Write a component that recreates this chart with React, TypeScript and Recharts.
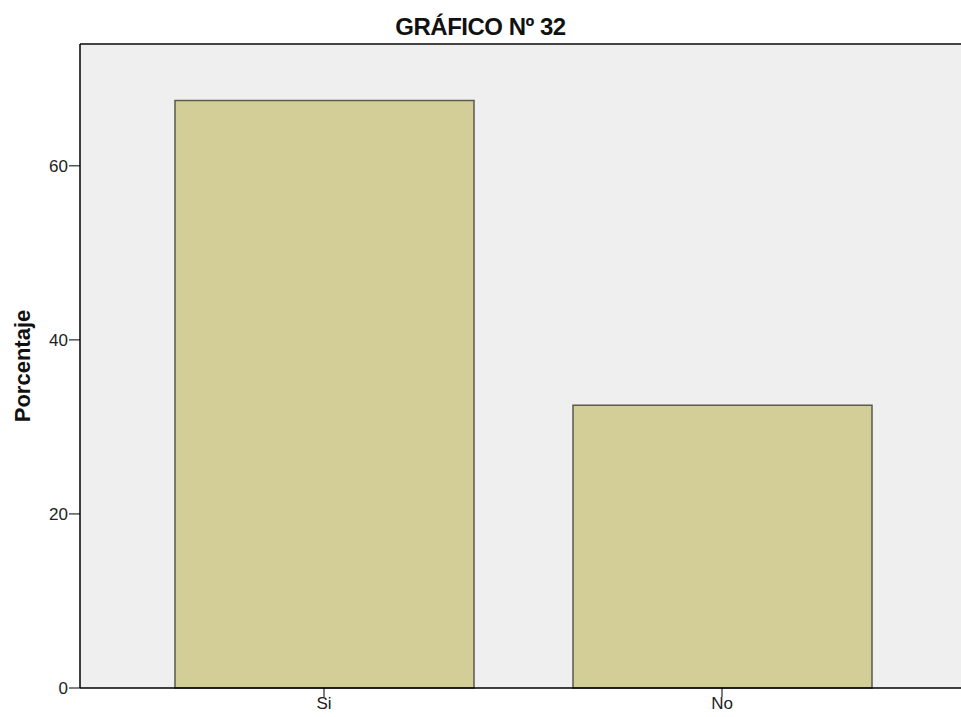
import React from 'react';
import {
  Bar,
  BarChart,
  CartesianGrid,
  ReferenceLine,
  XAxis,
  YAxis,
} from 'recharts';

const categories = ['Si', 'No'];
const porcentajes = [67.5, 32.5];
const yTicks = [0, 20, 40, 60];

const data = categories.map((name, i) => ({ name, value: porcentajes[i] }));

const font = 'Arial, "Liberation Sans", sans-serif';

export default function App() {
  return (
    <div style={{ position: 'absolute', top: 0, left: 0, width: 961, height: 717, background: '#fff', fontFamily: font }}>
      <div
        style={{
          position: 'absolute',
          top: 15,
          left: 0,
          width: 961,
          textAlign: 'center',
          fontSize: 24,
          lineHeight: '24px',
          letterSpacing: -0.5,
          fontWeight: 'bold',
          color: '#111',
        }}
      >
        GRÁFICO Nº 32
      </div>
      <BarChart
        width={961}
        height={717}
        data={data}
        margin={{ top: 44, right: 0, bottom: 0, left: 0 }}
        barSize={299}
      >
        <CartesianGrid fill="#efefef" horizontal={false} vertical={false} stroke="none" />
        <XAxis
          dataKey="name"
          padding={{ left: 45, right: 40 }}
          height={29}
          tick={{ fontSize: 17, fill: '#222', fontFamily: font }}
          tickLine={{ stroke: '#000' }}
          tickSize={9}
          tickMargin={0}
          axisLine={{ stroke: '#000', strokeWidth: 1.5 }}
        />
        <YAxis
          domain={[0, 74]}
          ticks={yTicks}
          width={80}
          tick={{ fontSize: 17, fill: '#222', fontFamily: font }}
          tickLine={{ stroke: '#000' }}
          tickSize={11}
          tickMargin={1}
          axisLine={{ stroke: '#000', strokeWidth: 1.5 }}
          label={{
            value: 'Porcentaje',
            angle: -90,
            position: 'insideLeft',
            offset: 22,
            style: { fontSize: 22, fontWeight: 'bold', fill: '#111', fontFamily: font, textAnchor: 'middle' },
          }}
        />
        <ReferenceLine y={74} stroke="#444" strokeWidth={2} />
        <Bar
          dataKey="value"
          fill="#d3ce97"
          stroke="#5a5a4e"
          strokeWidth={1.5}
          isAnimationActive={false}
        />
      </BarChart>
    </div>
  );
}
